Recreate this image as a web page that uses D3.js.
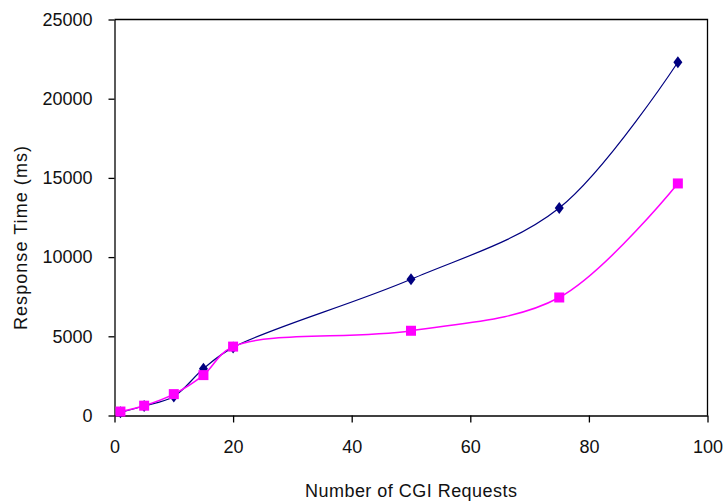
<!DOCTYPE html>
<html>
<head>
<meta charset="utf-8">
<script src="https://cdn.jsdelivr.net/npm/d3@7"></script>
<style>
  html, body { margin: 0; padding: 0; background: #fff; }
  svg { display: block; }
  text { font-family: "Liberation Sans", Arial, sans-serif; fill: #111; }
</style>
</head>
<body>
<svg id="chart" width="725" height="504"></svg>
<script>
// ---- data ----
const requests = [1, 5, 10, 15, 20, 50, 75, 95];
const seriesA = [200, 600, 1200, 2950, 4300, 8600, 13100, 22300];   // navy diamonds
const seriesB = [250, 620, 1350, 2550, 4350, 5350, 7450, 14650];    // magenta squares
const xTicks = [0, 20, 40, 60, 80, 100];
const yTicks = [0, 5000, 10000, 15000, 20000, 25000];
const xTitle = "Number of CGI Requests";
const yTitle = "Response Time (ms)";

// ---- layout ----
const svg = d3.select("#chart");
const mLeft = 114.5, mRight = 707.5, mTop = 19.5, mBottom = 415.5;

const x = d3.scaleLinear().domain([0, 100]).range([mLeft, mRight]);
const y = d3.scaleLinear().domain([0, 25000]).range([mBottom, mTop]);

// frame (top + right borders)
svg.append("path")
  .attr("d", `M${mLeft},${mTop}H${mRight}V${mBottom}`)
  .attr("fill", "none").attr("stroke", "#000").attr("stroke-width", 1.3);

// axes
const xAxis = svg.append("g").attr("transform", `translate(0,${mBottom})`)
  .call(d3.axisBottom(x).tickValues(xTicks).tickSize(7).tickPadding(18).tickSizeOuter(0));
const yAxis = svg.append("g").attr("transform", `translate(${mLeft},0)`)
  .call(d3.axisLeft(y).tickValues(yTicks).tickSize(6).tickPadding(16).tickFormat(d3.format("d")).tickSizeOuter(0));

[xAxis, yAxis].forEach(g => {
  g.select(".domain").attr("stroke", "#000").attr("stroke-width", 1.3);
  g.selectAll(".tick line").attr("stroke", "#000").attr("stroke-width", 1.3);
  g.selectAll(".tick text")
    .style("font-family", '"Liberation Sans", Arial, sans-serif')
    .style("font-size", "18px").attr("fill", "#111");
});

// lines
const line = d3.line().x(d => x(d[0])).y(d => y(d[1])).curve(d3.curveCatmullRom.alpha(0.5));
const dataA = requests.map((r, i) => [r, seriesA[i]]);
const dataB = requests.map((r, i) => [r, seriesB[i]]);

svg.append("path").datum(dataA).attr("d", line)
  .attr("fill", "none").attr("stroke", "#000080").attr("stroke-width", 1.2);
svg.append("path").datum(dataB).attr("d", line)
  .attr("fill", "none").attr("stroke", "#ff00ff").attr("stroke-width", 1.5);

// markers: diamonds
svg.append("g").selectAll("path").data(dataA).join("path")
  .attr("transform", d => `translate(${x(d[0])},${y(d[1])})`)
  .attr("d", "M0,-6L4.5,0L0,6L-4.5,0Z")
  .attr("fill", "#000080");

// markers: squares
svg.append("g").selectAll("rect").data(dataB).join("rect")
  .attr("x", d => x(d[0]) - 5).attr("y", d => y(d[1]) - 5)
  .attr("width", 10).attr("height", 10)
  .attr("fill", "#ff00ff");

// titles
svg.append("text")
  .attr("x", (mLeft + mRight) / 2).attr("y", 497)
  .attr("text-anchor", "middle")
  .attr("textLength", 212).attr("lengthAdjust", "spacing")
  .style("font-size", "18px")
  .text(xTitle);

svg.append("text")
  .attr("transform", `translate(27,238) rotate(-90)`)
  .attr("text-anchor", "middle")
  .attr("textLength", 184).attr("lengthAdjust", "spacing")
  .style("font-size", "18px")
  .text(yTitle);
</script>
</body>
</html>
